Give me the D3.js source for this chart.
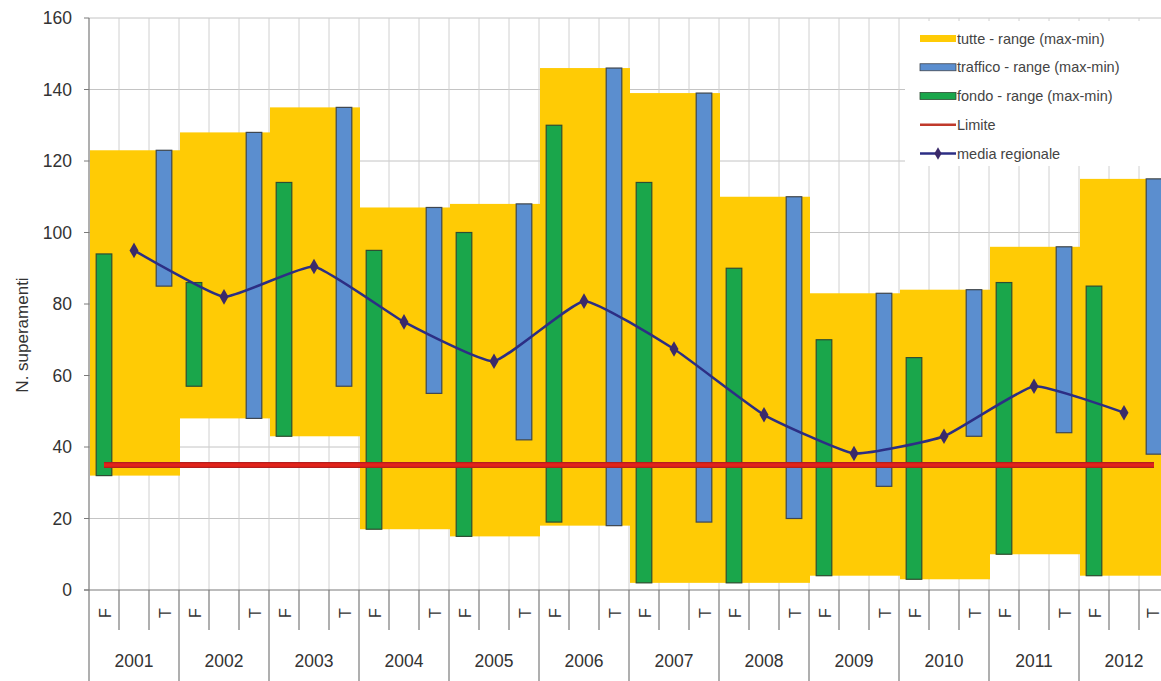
<!DOCTYPE html>
<html>
<head>
<meta charset="utf-8">
<script src="https://cdn.jsdelivr.net/npm/d3@7"></script>
<style>
  html, body { margin: 0; padding: 0; background: #fff; }
  svg { display: block; font-family: "Liberation Sans", Arial, sans-serif; }
</style>
</head>
<body>
<svg id="chart" width="1161" height="681"></svg>
<script>
// ---------- data ----------
const years = ["2001","2002","2003","2004","2005","2006","2007","2008","2009","2010","2011","2012"];
const subCats = ["F", "M", "T"];
const subLabels = ["F", "", "T"];
const tutteMax   = [123, 128, 135, 107, 108, 146, 139, 110, 83, 84, 96, 115];
const tutteMin   = [32, 48, 43, 17, 15, 18, 2, 2, 4, 3, 10, 4];
const trafficoMax = [123, 128, 135, 107, 108, 146, 139, 110, 83, 84, 96, 115];
const trafficoMin = [85, 48, 57, 55, 42, 18, 19, 20, 29, 43, 44, 38];
const fondoMax   = [94, 86, 114, 95, 100, 130, 114, 90, 70, 65, 86, 85];
const fondoMin   = [32, 57, 43, 17, 15, 19, 2, 2, 4, 3, 10, 4];
const mediaRegionale = [95, 82, 90.5, 75, 64, 80.8, 67.4, 49, 38.2, 43, 57, 49.6];
const limite = 35;
const yTicks = [0, 20, 40, 60, 80, 100, 120, 140, 160];
const legendLabels = ["tutte - range (max-min)", "traffico - range (max-min)", "fondo - range (max-min)", "Limite", "media regionale"];

(function () {
// ---------- layout ----------
const svg = d3.select("#chart");
const pLeft = 89, pTop = 18, pBottom = 590, yearW = 90;
const y = d3.scaleLinear().domain([0, 160]).range([pBottom, pTop]);
const xYear = d3.scaleBand().domain(years).range([pLeft, pLeft + yearW * years.length]).padding(0);
const xSub = d3.scaleBand().domain(subCats).range([0, xYear.bandwidth()]).padding(0);
const subCenter = (yr, c) => xYear(yr) + xSub(c) + xSub.bandwidth() / 2;
const plotRight = xYear.range()[1];

const colYellow = "#ffcb05", colBlue = "#5b8ecf", colGreen = "#1aa64b",
      colRed = "#e2231a", colNavy = "#2c2e84";

// gridlines
const grid = svg.append("g");
grid.selectAll("line.h").data(yTicks.filter(d => d > 0)).join("line")
  .attr("x1", pLeft).attr("x2", plotRight)
  .attr("y1", d => y(d)).attr("y2", d => y(d))
  .attr("stroke", "#c4c4c4").attr("stroke-width", 1);
const vLines = [];
years.forEach(yr => subCats.forEach(c => vLines.push(xYear(yr) + xSub(c))));
vLines.push(plotRight);
grid.selectAll("line.v").data(vLines.filter(v => v > pLeft)).join("line")
  .attr("x1", d => d).attr("x2", d => d)
  .attr("y1", pTop).attr("y2", pBottom)
  .attr("stroke", "#d0d0d0").attr("stroke-width", 1);

// yellow ranges (tutte)
svg.append("g").selectAll("rect").data(years).join("rect")
  .attr("x", d => xYear(d) + 1)
  .attr("width", xYear.bandwidth())
  .attr("y", (d, i) => y(tutteMax[i]))
  .attr("height", (d, i) => y(tutteMin[i]) - y(tutteMax[i]))
  .attr("fill", colYellow);

// green bars (fondo) on F
const bw = xSub.bandwidth() * 0.52;
svg.append("g").selectAll("rect").data(years).join("rect")
  .attr("x", d => subCenter(d, "F") - bw / 2)
  .attr("width", bw)
  .attr("y", (d, i) => y(fondoMax[i]))
  .attr("height", (d, i) => y(fondoMin[i]) - y(fondoMax[i]))
  .attr("fill", colGreen).attr("stroke", "#2d4d33").attr("stroke-width", 1.2);

// blue bars (traffico) on T
svg.append("g").selectAll("rect").data(years).join("rect")
  .attr("x", d => subCenter(d, "T") - bw / 2)
  .attr("width", bw)
  .attr("y", (d, i) => y(trafficoMax[i]))
  .attr("height", (d, i) => y(trafficoMin[i]) - y(trafficoMax[i]))
  .attr("fill", colBlue).attr("stroke", "#3e4650").attr("stroke-width", 1.2);

// red limit line from first to last category
const firstX = subCenter(years[0], "F");
const lastX = subCenter(years[years.length - 1], "T");
svg.append("line")
  .attr("x1", firstX).attr("x2", lastX)
  .attr("y1", y(limite)).attr("y2", y(limite))
  .attr("stroke", "#b51e1e").attr("stroke-width", 6);
svg.append("line")
  .attr("x1", firstX).attr("x2", lastX)
  .attr("y1", y(limite)).attr("y2", y(limite))
  .attr("stroke", colRed).attr("stroke-width", 3.5);

// media regionale line on middle category
const mediaPts = years.map((yr, i) => [subCenter(yr, "M"), y(mediaRegionale[i])]);
svg.append("path")
  .attr("d", d3.line().curve(d3.curveCardinal.tension(0.6))(mediaPts))
  .attr("fill", "none").attr("stroke", colNavy).attr("stroke-width", 2.5);
svg.append("g").selectAll("path").data(mediaPts).join("path")
  .attr("transform", d => `translate(${d[0]},${d[1]})`)
  .attr("d", d3.symbol().type(d3.symbolDiamond).size(70))
  .attr("fill", "#3b2a6a");

// axes
const axisCol = "#7a7a7a";
svg.append("line").attr("x1", pLeft).attr("x2", pLeft).attr("y1", pTop).attr("y2", 681)
  .attr("stroke", axisCol).attr("stroke-width", 1.2);
svg.append("line").attr("x1", pLeft - 5).attr("x2", plotRight).attr("y1", pBottom).attr("y2", pBottom)
  .attr("stroke", axisCol).attr("stroke-width", 1.2);

// y ticks and labels
const yAxisG = svg.append("g");
yAxisG.selectAll("line").data(yTicks).join("line")
  .attr("x1", pLeft - 5).attr("x2", pLeft)
  .attr("y1", d => y(d)).attr("y2", d => y(d))
  .attr("stroke", axisCol);
yAxisG.selectAll("text").data(yTicks).join("text")
  .attr("x", pLeft - 17).attr("y", d => y(d))
  .attr("dy", "0.35em").attr("text-anchor", "end")
  .attr("font-size", 17.5).attr("fill", "#333")
  .text(d => d);

svg.append("text")
  .attr("transform", `translate(28,335) rotate(-90)`)
  .attr("text-anchor", "middle")
  .attr("font-size", 17).attr("fill", "#333")
  .text("N. superamenti");

// x axis: sub-category separators and labels
const xg = svg.append("g");
years.forEach(yr => {
  subCats.forEach((c, j) => {
    const bx = xYear(yr) + xSub(c);
    if (j > 0) {
      xg.append("line").attr("x1", bx).attr("x2", bx).attr("y1", pBottom).attr("y2", 630)
        .attr("stroke", axisCol).attr("stroke-width", 1.2);
    }
    if (subLabels[j]) {
      const lx = Math.min(subCenter(yr, c) + 1, 1153);
      xg.append("text")
        .attr("transform", `translate(${lx},613) rotate(-90)`)
        .attr("text-anchor", "middle").attr("dy", "0.35em")
        .attr("font-size", 16).attr("fill", "#333")
        .text(subLabels[j]);
    }
  });
  const yx = xYear(yr) + xYear.bandwidth();
  xg.append("line").attr("x1", yx).attr("x2", yx).attr("y1", pBottom).attr("y2", 681)
    .attr("stroke", axisCol).attr("stroke-width", 1.2);
  xg.append("text")
    .attr("x", xYear(yr) + xYear.bandwidth() / 2).attr("y", 667)
    .attr("text-anchor", "middle")
    .attr("font-size", 17.5).attr("fill", "#333")
    .text(yr);
});

// legend
const lg = svg.append("g");
lg.append("rect").attr("x", 905).attr("y", 21).attr("width", 260).attr("height", 145).attr("fill", "#fff");
const rowY = d3.scalePoint().domain(legendLabels).range([38.5, 153.5]);
const sx0 = 920, sx1 = 956;
const swatchCols = [colYellow, colBlue, colGreen];
legendLabels.forEach((lab, i) => {
  const ry = rowY(lab);
  if (i < 3) {
    lg.append("rect").attr("x", sx0).attr("y", ry - 3.5).attr("width", sx1 - sx0).attr("height", 7)
      .attr("fill", swatchCols[i])
      .attr("stroke", i === 0 ? "none" : (i === 1 ? "#3e4650" : "#2d4d33")).attr("stroke-width", 0.8);
  } else if (i === 3) {
    lg.append("line").attr("x1", sx0).attr("x2", sx1).attr("y1", ry).attr("y2", ry)
      .attr("stroke", "#c0392b").attr("stroke-width", 2.5);
  } else {
    lg.append("line").attr("x1", sx0).attr("x2", sx1).attr("y1", ry).attr("y2", ry)
      .attr("stroke", colNavy).attr("stroke-width", 2.5);
    lg.append("path").attr("transform", `translate(${(sx0 + sx1) / 2},${ry})`)
      .attr("d", d3.symbol().type(d3.symbolDiamond).size(45)).attr("fill", "#3b2a6a");
  }
  lg.append("text").attr("x", sx1 + 1).attr("y", ry).attr("dy", "0.35em")
    .attr("font-size", 14.5).attr("fill", "#444")
    .text(lab);
});
})();
</script>
</body>
</html>
